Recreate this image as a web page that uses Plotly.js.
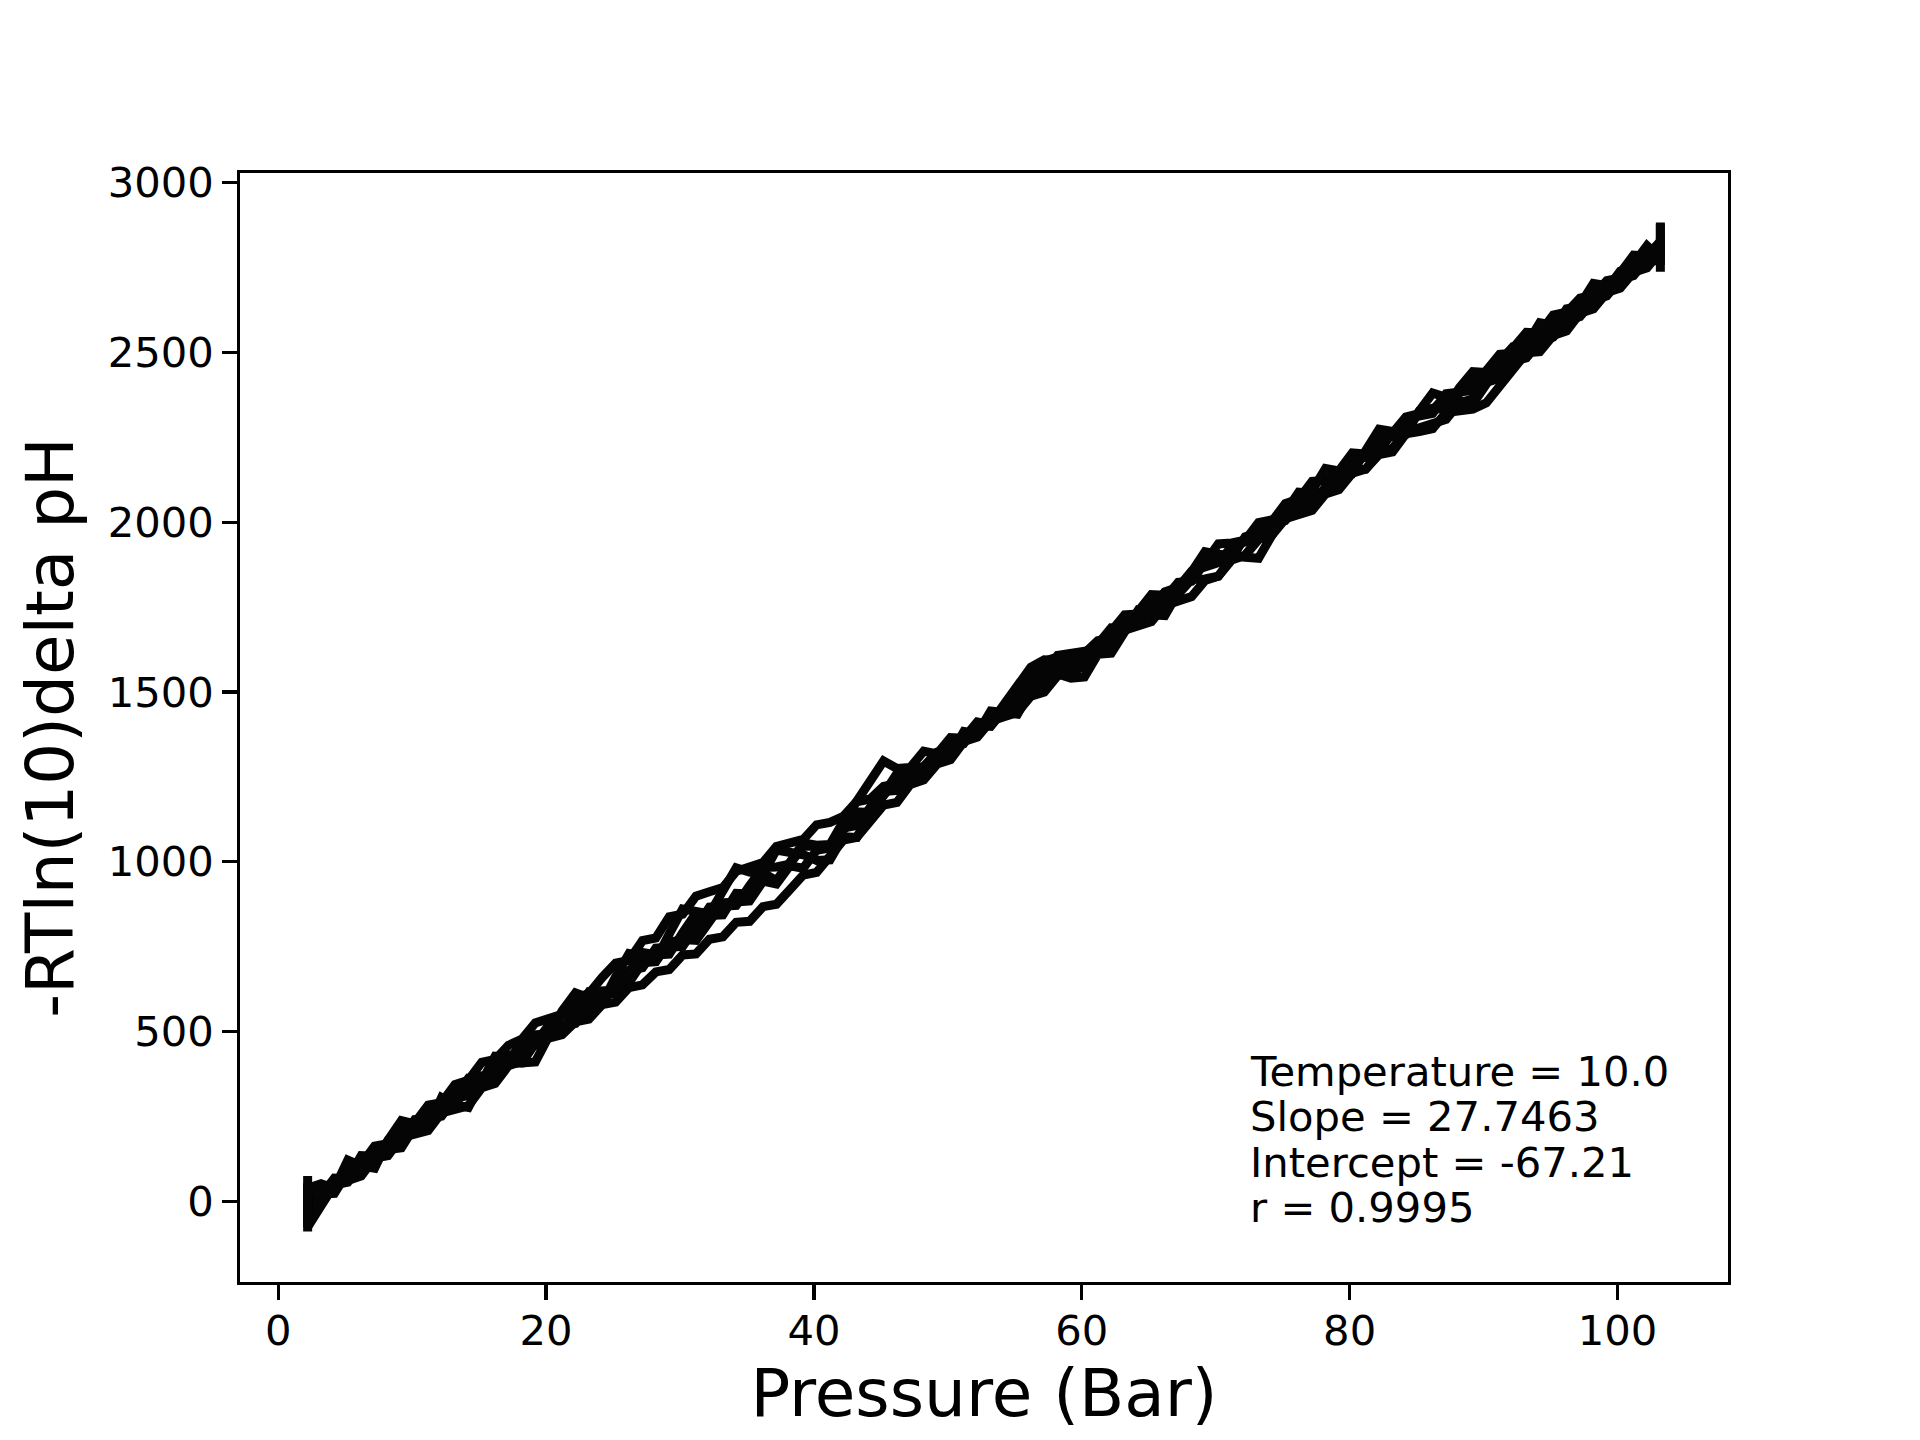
<!DOCTYPE html>
<html>
<head>
<meta charset="utf-8">
<title>Pressure vs -RTln(10)delta pH</title>
<script src="https://cdn.plot.ly/plotly-3.0.1.min.js"></script>
<style>
   html, body { margin: 0; padding: 0; background: #ffffff; }
</style>
</head>
<body>
<div id="chart"></div>
<script>

// pressure readings (Bar), shared by every run
const pressure = [2.2, 2.2, 3.2, 4.2, 5.2, 6.2, 7.2, 8.2, 9.2, 10.2, 11.2,
   12.2, 13.2, 14.2, 15.2, 16.2, 17.2, 18.2, 19.2, 20.2, 21.2,
   22.2, 23.2, 24.2, 25.2, 26.2, 27.2, 28.2, 29.2, 30.2, 31.2,
   32.2, 33.2, 34.2, 35.2, 36.2, 37.2, 38.2, 39.2, 40.2, 41.2,
   42.2, 43.2, 44.2, 45.2, 46.2, 47.2, 48.2, 49.2, 50.2, 51.2,
   52.2, 53.2, 54.2, 55.2, 56.2, 57.2, 58.2, 59.2, 60.2, 61.2,
   62.2, 63.2, 64.2, 65.2, 66.2, 67.2, 68.2, 69.2, 70.2, 71.2,
   72.2, 73.2, 74.2, 75.2, 76.2, 77.2, 78.2, 79.2, 80.2, 81.2,
   82.2, 83.2, 84.2, 85.2, 86.2, 87.2, 88.2, 89.2, 90.2, 91.2,
   92.2, 93.2, 94.2, 95.2, 96.2, 97.2, 98.2, 99.2, 100.2, 101.2,
   102.2, 103.2, 103.2];

// -RTln(10)delta pH for each run
const run1 = [54, -26, 37, 39, 102, 110, 163, 170, 223, 231, 284,
   291, 344, 357, 410, 418, 460, 478, 526, 539, 551,
   599, 612, 660, 702, 710, 768, 776, 838, 846, 899,
   912, 924, 972, 985, 998, 1045, 1058, 1066, 1109, 1116,
   1134, 1177, 1185, 1222, 1230, 1273, 1281, 1323, 1331, 1374,
   1382, 1424, 1432, 1485, 1533, 1590, 1603, 1606, 1614, 1651,
   1659, 1702, 1705, 1747, 1795, 1808, 1856, 1868, 1881, 1929,
   1942, 1989, 2002, 2055, 2068, 2115, 2128, 2141, 2189, 2201,
   2249, 2262, 2310, 2322, 2330, 2373, 2381, 2423, 2431, 2474,
   2517, 2524, 2567, 2575, 2618, 2660, 2668, 2711, 2719, 2761,
   2769, 2807, 2877];

const run2 = [-88, 10, 2, 59, 62, 75, 128, 135, 188, 196, 209,
   261, 269, 282, 335, 348, 400, 413, 471, 479, 491,
   529, 537, 580, 587, 630, 638, 676, 683, 726, 729,
   772, 779, 822, 825, 868, 875, 918, 961, 969, 1021,
   1064, 1072, 1125, 1167, 1175, 1228, 1241, 1288, 1301, 1354,
   1367, 1414, 1427, 1440, 1488, 1500, 1548, 1561, 1574, 1621,
   1634, 1682, 1695, 1707, 1755, 1768, 1781, 1828, 1841, 1889,
   1902, 1949, 1962, 2010, 2023, 2035, 2083, 2096, 2144, 2156,
   2204, 2217, 2265, 2277, 2290, 2303, 2351, 2363, 2411, 2424,
   2472, 2484, 2532, 2545, 2593, 2605, 2653, 2666, 2714, 2726,
   2774, 2767, 2737];

const run3 = [75, -60, 17, 69, 67, 135, 133, 140, 203, 211, 269,
   261, 309, 362, 355, 358, 415, 468, 461, 514, 506,
   559, 617, 610, 612, 675, 733, 726, 728, 791, 849,
   842, 844, 907, 905, 968, 945, 998, 1056, 1049, 1051,
   1119, 1177, 1230, 1297, 1275, 1278, 1326, 1318, 1366, 1364,
   1412, 1404, 1457, 1510, 1508, 1510, 1568, 1576, 1579, 1641,
   1689, 1687, 1740, 1787, 1785, 1788, 1846, 1893, 1891, 1894,
   1957, 1969, 1972, 2035, 2088, 2085, 2088, 2151, 2204, 2201,
   2204, 2267, 2270, 2327, 2335, 2333, 2396, 2443, 2441, 2449,
   2512, 2559, 2557, 2565, 2628, 2635, 2688, 2681, 2734, 2786,
   2784, 2827, 2882];

const run4 = [-40, 30, 22, 24, 87, 90, 148, 150, 158, 221, 224,
   281, 284, 342, 345, 403, 405, 408, 466, 519, 516,
   524, 582, 585, 642, 645, 703, 706, 763, 771, 769,
   822, 879, 882, 885, 943, 935, 988, 981, 1034, 1041,
   1099, 1107, 1160, 1207, 1210, 1258, 1261, 1308, 1311, 1359,
   1407, 1409, 1467, 1520, 1573, 1595, 1593, 1586, 1589, 1636,
   1639, 1687, 1730, 1737, 1790, 1788, 1831, 1833, 1841, 1894,
   1902, 1954, 2002, 2005, 2053, 2055, 2103, 2106, 2154, 2156,
   2199, 2207, 2260, 2267, 2275, 2323, 2326, 2333, 2351, 2404,
   2452, 2499, 2502, 2550, 2563, 2615, 2628, 2676, 2689, 2736,
   2749, 2797, 2757];

const run5 = [20, -75, -13, 49, 57, 115, 118, 180, 183, 241, 244,
   251, 304, 312, 370, 373, 430, 433, 491, 494, 551,
   554, 562, 620, 622, 680, 688, 746, 748, 751, 809,
   867, 869, 872, 930, 983, 985, 993, 1046, 1044, 1046,
   1094, 1147, 1145, 1192, 1245, 1253, 1256, 1303, 1351, 1349,
   1402, 1399, 1447, 1450, 1498, 1545, 1608, 1616, 1619, 1626,
   1679, 1727, 1730, 1777, 1775, 1823, 1826, 1883, 1936, 1939,
   1947, 1999, 2007, 2015, 2068, 2120, 2123, 2131, 2184, 2191,
   2244, 2252, 2305, 2312, 2320, 2378, 2381, 2388, 2446, 2494,
   2497, 2504, 2557, 2610, 2618, 2625, 2678, 2686, 2739, 2746,
   2759, 2817, 2777];

const run6 = [-60, 39, 52, 39, 122, 105, 98, 180, 238, 226, 219,
   306, 284, 277, 360, 428, 425, 408, 411, 484, 561,
   614, 597, 585, 662, 730, 723, 711, 788, 861, 854,
   847, 914, 982, 970, 963, 1035, 1028, 1021, 1004, 1006,
   1074, 1072, 1140, 1202, 1260, 1248, 1246, 1318, 1316, 1384,
   1377, 1444, 1442, 1435, 1503, 1560, 1553, 1541, 1544, 1611,
   1614, 1677, 1740, 1727, 1725, 1793, 1856, 1913, 1906, 1899,
   1897, 1894, 1962, 2030, 2028, 2095, 2158, 2151, 2144, 2211,
   2274, 2267, 2260, 2327, 2380, 2368, 2356, 2348, 2406, 2469,
   2457, 2519, 2587, 2580, 2573, 2640, 2703, 2696, 2694, 2761,
   2814, 2777, 2837];

const runs = [run1, run2, run3, run4, run5, run6];

const xTicks = [0, 20, 40, 60, 80, 100];
const yTicks = [0, 500, 1000, 1500, 2000, 2500, 3000];

const fitLines = ["Temperature = 10.0", "Slope = 27.7463", "Intercept = -67.21", "r = 0.9995"];

// figure geometry (matplotlib-like 6.4x4.8in at 300dpi)
const W = 1920, H = 1440;
const mL = 240, mR = 192, mT = 173, mB = 158;
const plotH = H - mT - mB;
const FONT = "DejaVu Sans, Verdana, sans-serif";

const traces = runs.map(function(r) {
   return {
      x: pressure,
      y: r,
      type: 'scatter',
      mode: 'lines',
      line: { color: '#050505', width: 9 },
      showlegend: false,
      hoverinfo: 'skip'
   };
});

const annots = fitLines.map(function(t, i) {
   const baseline = 1085 + i * 45.5;
   return {
      text: t,
      xref: 'paper', yref: 'paper',
      x: (1249 - mL) / (W - mL - mR),
      y: (H - mB - (baseline - 14)) / plotH,
      xanchor: 'left', yanchor: 'middle',
      showarrow: false,
      borderpad: 0,
      font: { family: FONT, size: 41.7, color: '#000000' }
   };
});

const axisCommon = {
   showgrid: false,
   zeroline: false,
   showline: true,
   mirror: true,
   linecolor: '#000000',
   linewidth: 3.3,
   ticks: 'outside',
   ticklen: 14.6,
   tickwidth: 3.3,
   tickcolor: '#000000',
   tickfont: { family: FONT, size: 41.7, color: '#000000' }
};

const layout = {
   width: W,
   height: H,
   margin: { l: mL, r: mR, t: mT, b: mB, pad: 0 },
   paper_bgcolor: '#ffffff',
   plot_bgcolor: '#ffffff',
   font: { family: FONT, color: '#000000' },
   xaxis: Object.assign({}, axisCommon, {
      range: [-2.85, 108.25],
      tickmode: 'array',
      tickvals: xTicks,
      ticklabelstandoff: -5,
      title: { text: 'Pressure (Bar)', font: { family: FONT, size: 66 }, standoff: 16 }
   }),
   yaxis: Object.assign({}, axisCommon, {
      range: [-237, 3028],
      tickmode: 'array',
      tickvals: yTicks,
      title: { text: '-RTln(10)delta pH', font: { family: FONT, size: 66 }, standoff: 13 }
   }),
   annotations: annots
};

Plotly.newPlot('chart', traces, layout, { displayModeBar: false, staticPlot: true });

</script>
</body>
</html>
